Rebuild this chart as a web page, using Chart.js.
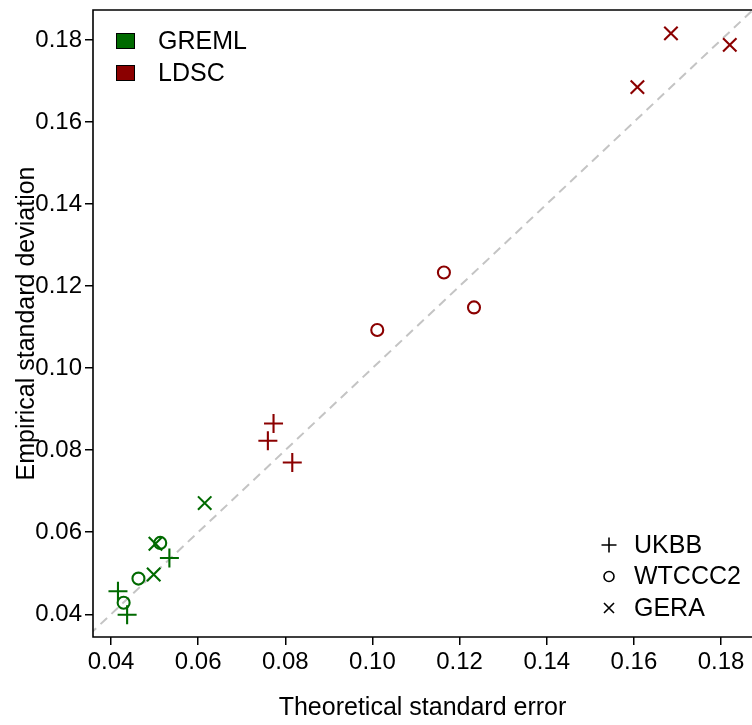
<!DOCTYPE html>
<html>
<head>
<meta charset="utf-8">
<script src="https://cdn.jsdelivr.net/npm/chart.js@4/dist/chart.umd.min.js"></script>
<style>
  html, body { margin: 0; padding: 0; background: #ffffff; }
  #wrap { width: 752px; height: 725px; position: relative; }
</style>
</head>
<body>
<div id="wrap"><canvas id="c" width="752" height="725"></canvas></div>
<script>
// ---- data (theoretical SE on x, empirical SD on y) ----
const methods = ['GREML', 'LDSC'];
const cohorts = ['UKBB', 'WTCCC2', 'GERA'];

const gremlUkbbX   = [0.0416, 0.0437, 0.0534];
const gremlUkbbY   = [0.0456, 0.0399, 0.0537];
const gremlWtccc2X = [0.0429, 0.0463, 0.0513];
const gremlWtccc2Y = [0.0428, 0.0487, 0.0574];
const gremlGeraX   = [0.0498, 0.0502, 0.0615];
const gremlGeraY   = [0.0497, 0.0572, 0.0671];

const ldscUkbbX   = [0.0760, 0.0773, 0.0816];
const ldscUkbbY   = [0.0823, 0.0865, 0.0770];
const ldscWtccc2X = [0.1011, 0.1164, 0.1233];
const ldscWtccc2Y = [0.1093, 0.1233, 0.1148];
const ldscGeraX   = [0.1608, 0.1685, 0.1820];
const ldscGeraY   = [0.1685, 0.1816, 0.1788];

const identityLine = [0.0, 0.2];        // y = x reference
const xTickValues = [0.04, 0.06, 0.08, 0.10, 0.12, 0.14, 0.16, 0.18];
const yTickValues = [0.04, 0.06, 0.08, 0.10, 0.12, 0.14, 0.16, 0.18];
const xRange = [0.03587, 0.1871];
const yRange = [0.03446, 0.1873];

// ---- styles ----
const GREEN = '#006a00';
const RED = '#8b0000';
const FONT = "'Liberation Sans', Arial, Helvetica, sans-serif";
const styleFor = {
  UKBB:   { pointStyle: 'cross',    radius: 9.5 },
  WTCCC2: { pointStyle: 'circle',   radius: 6 },
  GERA:   { pointStyle: 'crossRot', radius: 9.5 }
};

function pts(xs, ys) { return xs.map((x, i) => ({ x: x, y: ys[i] })); }

function scatterSet(label, xs, ys, cohort, color) {
  const s = styleFor[cohort];
  return {
    type: 'scatter',
    label: label,
    data: pts(xs, ys),
    pointStyle: s.pointStyle,
    pointRadius: s.radius,
    pointHoverRadius: s.radius,
    pointBorderColor: color,
    pointBackgroundColor: 'rgba(0,0,0,0)',
    pointBorderWidth: 2.1,
    borderColor: color,
    backgroundColor: 'rgba(0,0,0,0)',
    showLine: false,
    order: 1
  };
}

const datasets = [
  {
    type: 'line',
    label: 'identity',
    data: identityLine.map(v => ({ x: v, y: v })),
    borderColor: '#c4c4c4',
    borderWidth: 2,
    borderDash: [9, 6],
    pointRadius: 0,
    fill: false,
    order: 10
  },
  scatterSet('GREML UKBB', gremlUkbbX, gremlUkbbY, 'UKBB', GREEN),
  scatterSet('GREML WTCCC2', gremlWtccc2X, gremlWtccc2Y, 'WTCCC2', GREEN),
  scatterSet('GREML GERA', gremlGeraX, gremlGeraY, 'GERA', GREEN),
  scatterSet('LDSC UKBB', ldscUkbbX, ldscUkbbY, 'UKBB', RED),
  scatterSet('LDSC WTCCC2', ldscWtccc2X, ldscWtccc2Y, 'WTCCC2', RED),
  scatterSet('LDSC GERA', ldscGeraX, ldscGeraY, 'GERA', RED)
];

// box + legends plugin
const boxLegend = {
  id: 'boxLegend',
  afterDraw(chart) {
    const ctx = chart.ctx;
    const a = chart.chartArea;
    ctx.save();
    ctx.strokeStyle = '#000';
    ctx.lineWidth = 1.6;
    ctx.beginPath();
    ctx.moveTo(a.right + 2, a.top);
    ctx.lineTo(a.left, a.top);
    ctx.lineTo(a.left, a.bottom);
    ctx.lineTo(a.right + 2, a.bottom);
    ctx.stroke();

    // method legend (top-left)
    const methodColors = [GREEN, RED];
    ctx.font = '25px ' + FONT;
    ctx.textBaseline = 'middle';
    ctx.textAlign = 'left';
    methods.forEach((m, i) => {
      const cy = a.top + 31 + i * 32;
      ctx.fillStyle = methodColors[i];
      ctx.fillRect(a.left + 23.5, cy - 7.5, 18, 15);
      ctx.lineWidth = 1;
      ctx.strokeStyle = '#000';
      ctx.strokeRect(a.left + 23.5, cy - 7.5, 18, 15);
      ctx.fillStyle = '#000';
      ctx.fillText(m, a.left + 65, cy + 1);
    });

    // cohort legend (bottom-right)
    ctx.strokeStyle = '#000';
    ctx.lineWidth = 1.6;
    const sx = 609;
    cohorts.forEach((c, i) => {
      const cy = 545 + i * 31.5;
      ctx.beginPath();
      if (c === 'UKBB') {
        ctx.moveTo(sx - 7.5, cy); ctx.lineTo(sx + 7.5, cy);
        ctx.moveTo(sx, cy - 7.5); ctx.lineTo(sx, cy + 7.5);
      } else if (c === 'WTCCC2') {
        ctx.arc(sx, cy, 5, 0, Math.PI * 2);
      } else {
        ctx.moveTo(sx - 5, cy - 5); ctx.lineTo(sx + 5, cy + 5);
        ctx.moveTo(sx + 5, cy - 5); ctx.lineTo(sx - 5, cy + 5);
      }
      ctx.stroke();
      ctx.fillStyle = '#000';
      ctx.fillText(c, 634, cy + 1);
    });
    ctx.restore();
  }
};

new Chart(document.getElementById('c'), {
  data: { datasets: datasets },
  options: {
    responsive: false,
    animation: false,
    layout: { autoPadding: false, padding: { top: 10, right: 0, left: 0, bottom: 0 } },
    plugins: { legend: { display: false }, tooltip: { enabled: false } },
    scales: {
      x: {
        type: 'linear',
        position: 'bottom',
        min: xRange[0],
        max: xRange[1],
        afterBuildTicks: s => { s.ticks = xTickValues.map(v => ({ value: v })); },
        afterFit: s => { s.height = 88; s.paddingLeft = 0; s.paddingRight = 0; },
        ticks: {
          callback: v => v.toFixed(2),
          font: { family: FONT, size: 24 },
          color: '#000',
          padding: 3,
          maxRotation: 0,
          autoSkip: false
        },
        grid: { drawOnChartArea: false, drawTicks: true, tickLength: 8, color: '#000', lineWidth: 1.5 },
        border: { display: false },
        title: {
          display: true,
          text: 'Theoretical standard error',
          font: { family: FONT, size: 25 },
          color: '#000',
          padding: { top: 0, bottom: 2 }
        }
      },
      y: {
        type: 'linear',
        position: 'left',
        min: yRange[0],
        max: yRange[1],
        afterBuildTicks: s => { s.ticks = yTickValues.map(v => ({ value: v })); },
        afterFit: s => { s.width = 93; s.paddingTop = 0; s.paddingBottom = 0; },
        ticks: {
          callback: v => v.toFixed(2),
          font: { family: FONT, size: 24 },
          color: '#000',
          padding: 3,
          autoSkip: false
        },
        grid: { drawOnChartArea: false, drawTicks: true, tickLength: 8, color: '#000', lineWidth: 1.5 },
        border: { display: false },
        title: {
          display: true,
          text: 'Empirical standard deviation',
          font: { family: FONT, size: 25 },
          color: '#000',
          padding: { top: 12, bottom: 0 }
        }
      }
    }
  },
  plugins: [boxLegend]
});
</script>
</body>
</html>
